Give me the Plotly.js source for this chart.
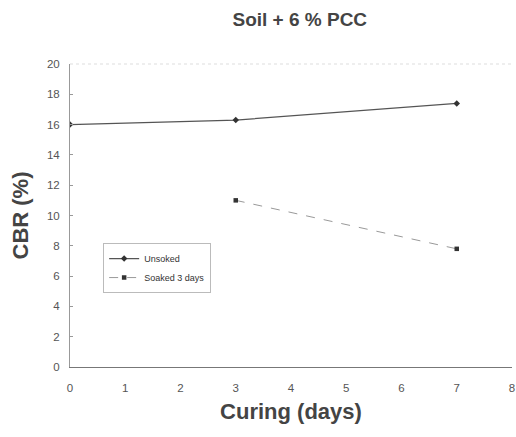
<!DOCTYPE html>
<html>
<head>
<meta charset="utf-8">
<script src="https://cdn.plot.ly/plotly-3.0.1.min.js"></script>
<style>html,body{margin:0;padding:0;background:#fff;}#chart{width:516px;height:437px;}</style>
</head>
<body>
<div id="chart"></div>
<script>
// CBR of soil + 6 % PCC versus curing time
const curingUnsoaked = [0, 3, 7];
const cbrUnsoaked = [16.0, 16.3, 17.4];
const curingSoaked = [3, 7];
const cbrSoaked = [11.0, 7.8];
const xTicks = [0, 1, 2, 3, 4, 5, 6, 7, 8];
const yTicks = [0, 2, 4, 6, 8, 10, 12, 14, 16, 18, 20];

const traces = [
  {
    x: curingUnsoaked, y: cbrUnsoaked, name: 'Unsoked',
    mode: 'lines+markers', type: 'scatter',
    line: {color: '#555', width: 1.2},
    marker: {symbol: 'diamond', size: 5, color: '#333'}
  },
  {
    x: curingSoaked, y: cbrSoaked, name: 'Soaked 3 days',
    mode: 'lines+markers', type: 'scatter',
    line: {color: '#999', width: 1, dash: 'dash'},
    marker: {symbol: 'square', size: 4.5, color: '#333'}
  }
];

const layout = {
  width: 516, height: 437,
  margin: {l: 70, r: 4, t: 64, b: 70},
  paper_bgcolor: '#fff', plot_bgcolor: '#fff',
  font: {family: 'Liberation Sans, Arial, sans-serif', color: '#555'},
  title: {
    text: '<b>Soil + 6 % PCC</b>',
    font: {size: 19, color: '#444'},
    x: 0.581, xanchor: 'center', y: 0.955, yanchor: 'middle'
  },
  xaxis: {
    range: [0, 8], tickvals: xTicks, ticktext: xTicks.map(String),
    showgrid: false, zeroline: false, showline: true,
    linecolor: '#777', linewidth: 1, ticks: '',
    ticklabelstandoff: 10,
    tickfont: {size: 11.5, color: '#555'},
    title: {text: '<b>Curing (days)</b>', font: {size: 22, color: '#444'}, standoff: 10}
  },
  yaxis: {
    range: [0, 20], tickvals: yTicks, ticktext: yTicks.map(String),
    showgrid: false, zeroline: false, showline: true,
    linecolor: '#999', linewidth: 1, ticks: 'inside', ticklen: 3, tickcolor: '#999',
    ticklabelstandoff: 7,
    tickfont: {size: 11.5, color: '#555'},
    title: {text: '<b>CBR (%)</b>', font: {size: 22, color: '#444'}, standoff: 12}
  },
  showlegend: true,
  legend: {
    x: 0.075, y: 0.409, xanchor: 'left', yanchor: 'top',
    bgcolor: 'rgba(255,255,255,0)', bordercolor: '#bbb', borderwidth: 1,
    font: {size: 9, color: '#333'}, itemwidth: 30, tracegroupgap: 0
  },
  shapes: [
    {type: 'line', xref: 'paper', yref: 'paper', x0: 0, x1: 1, y0: 1, y1: 1,
     line: {color: '#ddd', width: 1, dash: 'dot'}}
  ]
};

Plotly.newPlot('chart', traces, layout, {staticPlot: true, displayModeBar: false});
</script>
</body>
</html>
